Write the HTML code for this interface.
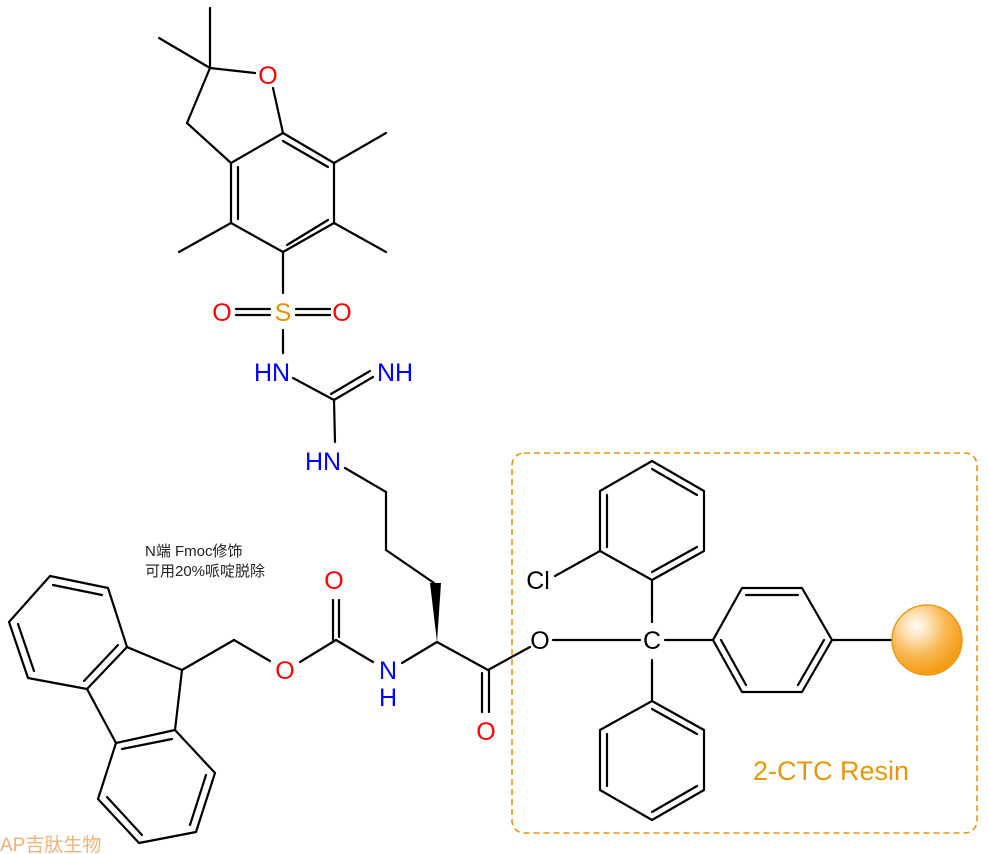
<!DOCTYPE html>
<html><head><meta charset="utf-8"><style>
html,body{margin:0;padding:0;background:#fff;}
svg{display:block;}
text{font-family:"Liberation Sans",Arial,sans-serif;}
</style></head><body>
<svg width="988" height="854" viewBox="0 0 988 854" xmlns="http://www.w3.org/2000/svg">
<defs>
<radialGradient id="sph" cx="0.35" cy="0.3" r="0.7">
<stop offset="0" stop-color="#fffdf8"/>
<stop offset="0.25" stop-color="#fde3b8"/>
<stop offset="0.6" stop-color="#f9b853"/>
<stop offset="1" stop-color="#f39c12"/>
</radialGradient>
</defs>
<rect x="512" y="453" width="465" height="380" rx="12" ry="12" fill="none" stroke="#e8960c" stroke-width="1.6" stroke-dasharray="6,4"/>
<g stroke="#000" stroke-width="2.2" fill="none" stroke-linecap="round" stroke-linejoin="round">
<line x1="210" y1="68" x2="210" y2="8"/>
<line x1="210" y1="68" x2="159" y2="38"/>
<line x1="210" y1="68" x2="255" y2="73"/>
<line x1="210" y1="68" x2="187" y2="123"/>
<line x1="187" y1="123" x2="231" y2="163"/>
<line x1="273" y1="88" x2="283" y2="133"/>
<polygon points="231,163 283,133 334,163 334,223 283,252 231,223"/>
<line x1="238" y1="167" x2="238" y2="219"/>
<line x1="283" y1="141" x2="328" y2="167"/>
<line x1="287" y1="245" x2="328" y2="220"/>
<line x1="334" y1="163" x2="386" y2="133"/>
<line x1="334" y1="223" x2="386" y2="252"/>
<line x1="231" y1="223" x2="179" y2="252"/>
<line x1="283" y1="252" x2="283" y2="293"/>
<line x1="236" y1="309" x2="270" y2="309"/>
<line x1="236" y1="315" x2="270" y2="315"/>
<line x1="296" y1="309" x2="330" y2="309"/>
<line x1="296" y1="315" x2="330" y2="315"/>
<line x1="283" y1="330" x2="283" y2="353"/>
<line x1="293" y1="378" x2="334" y2="400"/>
<line x1="334" y1="400" x2="373" y2="377"/>
<line x1="331" y1="394" x2="370" y2="371"/>
<line x1="334" y1="400" x2="335" y2="442"/>
<line x1="345" y1="468" x2="386" y2="492"/>
<line x1="386" y1="492" x2="386" y2="550"/>
<line x1="386" y1="550" x2="434" y2="583"/>
<line x1="437" y1="642" x2="402" y2="663"/>
<line x1="373" y1="662" x2="336" y2="640"/>
<line x1="333" y1="600" x2="333" y2="640"/>
<line x1="339" y1="600" x2="339" y2="637"/>
<line x1="336" y1="640" x2="300" y2="662"/>
<line x1="270" y1="661" x2="234" y2="640"/>
<line x1="234" y1="640" x2="182" y2="670"/>
<line x1="437" y1="642" x2="488" y2="670"/>
<line x1="482" y1="673" x2="482" y2="712"/>
<line x1="489" y1="670" x2="489" y2="712"/>
<line x1="488" y1="670" x2="530" y2="647"/>
<polygon points="50,576 108,588 127,647 87,689 28,678 9,622"/>
<line x1="53" y1="585" x2="102" y2="595"/>
<line x1="118" y1="645" x2="84" y2="681"/>
<line x1="34" y1="671" x2="18" y2="624"/>
<line x1="182" y1="670" x2="127" y2="647"/>
<line x1="182" y1="670" x2="175" y2="730"/>
<line x1="87" y1="689" x2="116" y2="743"/>
<polygon points="116,743 175,730 215,773 196,832 139,843 98,799"/>
<line x1="122" y1="749" x2="172" y2="739"/>
<line x1="206" y1="775" x2="190" y2="825"/>
<line x1="142" y1="835" x2="107" y2="797"/>
<line x1="553" y1="640" x2="640" y2="640"/>
<line x1="652" y1="622" x2="652" y2="580"/>
<polygon points="652,580 600,551 600,491 652,461 704,491 704,551"/>
<line x1="607" y1="547" x2="607" y2="495"/>
<line x1="652" y1="469" x2="697" y2="495"/>
<line x1="697" y1="547" x2="652" y2="572"/>
<line x1="555" y1="576" x2="600" y2="551"/>
<line x1="665" y1="640" x2="713" y2="640"/>
<polygon points="713,640 742,588 802,588 832,640 802,692 742,692"/>
<line x1="746" y1="595" x2="798" y2="595"/>
<line x1="824" y1="640" x2="798" y2="685"/>
<line x1="746" y1="685" x2="721" y2="640"/>
<line x1="832" y1="640" x2="892" y2="640"/>
<line x1="652" y1="660" x2="652" y2="701"/>
<polygon points="652,701 704,730 704,790 652,820 600,790 600,730"/>
<line x1="652" y1="709" x2="697" y2="734"/>
<line x1="697" y1="786" x2="652" y2="812"/>
<line x1="607" y1="786" x2="607" y2="734"/>
</g>
<polygon points="430,583 441,583 437,642" fill="#000"/>
<circle cx="927" cy="640" r="35" fill="url(#sph)" stroke="#eb9a1a" stroke-width="1.5"/>
<g font-size="25" text-anchor="middle">
<text x="268" y="84" fill="#f00">O</text>
<text x="283" y="321" fill="#e69500">S</text>
<text x="222" y="321" fill="#f00">O</text>
<text x="342" y="321" fill="#f00">O</text>
<text x="272" y="381" fill="#00f">HN</text>
<text x="395" y="381" fill="#00f">NH</text>
<text x="323" y="470" fill="#00f">HN</text>
<text x="334" y="589" fill="#f00">O</text>
<text x="285" y="679" fill="#f00">O</text>
<text x="388" y="679" fill="#00f">N</text>
<text x="388" y="706" fill="#00f">H</text>
<text x="486" y="740" fill="#f00">O</text>
<text x="540" y="649" fill="#000">O</text>
<text x="652" y="649" fill="#000">C</text>
<text x="538" y="589" fill="#000">Cl</text>
</g>
<text x="753" y="780" font-size="27" fill="#e8960c">2-CTC Resin</text>
<text x="145" y="556" font-size="15" fill="#222" style='font-family:"Liberation Sans","Noto Sans CJK SC",sans-serif'>N端 Fmoc修饰</text>
<text x="145" y="576" font-size="15" fill="#222" style='font-family:"Liberation Sans","Noto Sans CJK SC",sans-serif'>可用20%哌啶脱除</text>
<text x="0" y="851" font-size="19" fill="#f2b27a" style='font-family:"Liberation Sans","Noto Sans CJK SC",sans-serif'>AP吉肽生物</text>
</svg>
</body></html>
